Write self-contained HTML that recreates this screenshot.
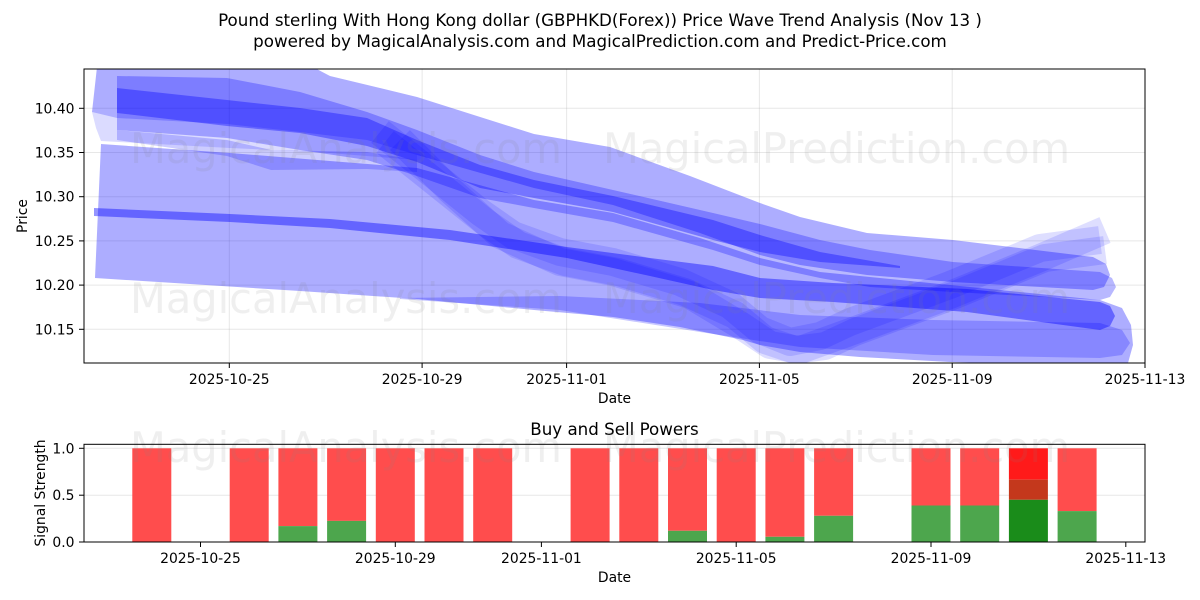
<!DOCTYPE html>
<html>
<head>
<meta charset="utf-8">
<style>
  html,body{margin:0;padding:0;background:#fff;}
  svg{display:block;}
  text{font-family:"DejaVu Sans","Liberation Sans",sans-serif;fill:#000;}
</style>
</head>
<body>
<svg width="1200" height="600" viewBox="0 0 1200 600" xmlns="http://www.w3.org/2000/svg">
  <defs>
    <clipPath id="topclip"><rect x="84" y="69" width="1061" height="294"/></clipPath>
  </defs>
  <rect x="0" y="0" width="1200" height="600" fill="#fff"/>

  <!-- Titles -->
  <text x="600" y="26" font-size="16.7" text-anchor="middle">Pound sterling With Hong Kong dollar (GBPHKD(Forex)) Price Wave Trend Analysis (Nov 13 )</text>
  <text x="600" y="47" font-size="16.7" text-anchor="middle">powered by MagicalAnalysis.com and MagicalPrediction.com and Predict-Price.com</text>

  <!-- ================= TOP CHART ================= -->
  <g stroke="#b0b0b0" stroke-opacity="0.3" stroke-width="1">
    <line x1="84" y1="108.3" x2="1145" y2="108.3"/>
    <line x1="84" y1="152.5" x2="1145" y2="152.5"/>
    <line x1="84" y1="196.7" x2="1145" y2="196.7"/>
    <line x1="84" y1="240.9" x2="1145" y2="240.9"/>
    <line x1="84" y1="285.1" x2="1145" y2="285.1"/>
    <line x1="84" y1="329.3" x2="1145" y2="329.3"/>
    <line x1="229.3" y1="69" x2="229.3" y2="363"/>
    <line x1="422.1" y1="69" x2="422.1" y2="363"/>
    <line x1="566.6" y1="69" x2="566.6" y2="363"/>
    <line x1="759.4" y1="69" x2="759.4" y2="363"/>
    <line x1="952.2" y1="69" x2="952.2" y2="363"/>
  </g>

  <g clip-path="url(#topclip)">
    <!-- U band -->
    <polygon fill="#0000ff" fill-opacity="0.32" points="100,40 290,55 330,76 417,97 534,134 610,147 690,176 760,203 800,217 867,233 953,240 1093,257 1106,264 1110,275 1104,287 1093,290 953,282 867,275 800,265 760,255 700,233 613,205 534,188 417,155 367,140 300,132 227,124 117,118 92,112"/>
    <!-- pale band -->
    <polygon fill="#0000ff" fill-opacity="0.14" points="92,112 117,118 227,124 300,132 367,140 417,155 417,160 317,152 230,148 101,141 96,128"/>
    <!-- L band -->
    <polygon fill="#0000ff" fill-opacity="0.32" points="101,144 230,153 330,161 417,168 534,200 613,213 700,238 760,258 820,272 950,285 1100,300 1122,308 1131,325 1133,345 1128,363 1100,366 950,362 860,357 800,352 760,345 743,340 680,327 613,317 534,310 417,299 300,291 95,278"/>
    <!-- medium upper band -->
    <polygon fill="#0000ff" fill-opacity="0.28" points="117,76 227,78 300,92 367,112 417,130 480,155 534,172 613,190 713,213 760,224 820,240 870,250 953,262 1100,272 1112,278 1116,287 1110,297 1100,300 953,292 870,287 820,278 760,265 713,250 613,222 534,208 480,198 417,176 367,160 300,150 227,138 117,130"/>
    <!-- dark core upper (tapering to the right) -->
    <polygon fill="#0000ff" fill-opacity="0.36" points="117,88 227,100 300,108 367,118 417,140 480,165 534,180 613,196 713,220 760,235 820,252 900,266 900,268 820,262 760,252 713,240 613,212 534,198 480,188 417,162 367,146 300,133 227,126 117,113"/>
    <!-- dip band -->
    <polygon fill="#0000ff" fill-opacity="0.2" points="117,130 227,140 271,150 367,152 417,160 417,172 367,169 271,170 227,156 117,140"/>
    <!-- lowest band (tapers in from left) -->
    <polygon fill="#0000ff" fill-opacity="0.22" points="400,298 560,296 700,303 800,315 933,320 1100,323 1122,330 1130,343 1122,355 1100,358 933,355 800,347 700,332 560,310 400,299"/>
    <!-- descending / rising pale bands -->
    <polyline fill="none" stroke="#0000ff" stroke-opacity="0.13" stroke-width="28" stroke-linejoin="round" points="380,132 430,172 480,212 513,235 560,252 613,262 680,282 730,305 760,330 790,342 820,336 850,322 950,285 1040,248 1100,240"/>
    <polyline fill="none" stroke="#0000ff" stroke-opacity="0.13" stroke-width="28" stroke-linejoin="round" points="385,142 435,182 485,222 518,245 565,262 618,272 685,292 735,315 765,340 795,350 825,346 855,332 955,295 1045,258 1105,250"/>
    <polyline fill="none" stroke="#0000ff" stroke-opacity="0.13" stroke-width="28" stroke-linejoin="round" points="400,140 450,190 500,235 560,262 613,272 690,295 740,325 770,345 800,350 850,332 950,295 1040,258 1105,230"/>
    <!-- lower line LT / LD -->
    <polygon fill="#0000ff" fill-opacity="0.42" points="94,208 230,214 330,219 450,230 567,247 650,258 713,266 760,278 833,283 967,289 1100,302 1110,306 1115,316 1110,326 1100,330 967,312 833,302 760,298 713,290 650,276 567,258 450,240 330,228 230,222 94,216"/>
  </g>

  <!-- watermarks top -->
  <g font-size="42">
    <text x="130" y="163" textLength="432" lengthAdjust="spacingAndGlyphs" style="fill:#808080;fill-opacity:0.13">MagicalAnalysis.com</text>
    <text x="603" y="163" textLength="467" lengthAdjust="spacingAndGlyphs" style="fill:#808080;fill-opacity:0.13">MagicalPrediction.com</text>
    <text x="130" y="313" textLength="432" lengthAdjust="spacingAndGlyphs" style="fill:#808080;fill-opacity:0.13">MagicalAnalysis.com</text>
    <text x="603" y="313" textLength="467" lengthAdjust="spacingAndGlyphs" style="fill:#808080;fill-opacity:0.13">MagicalPrediction.com</text>
  </g>

  <rect x="84" y="69" width="1061" height="294" fill="none" stroke="#000" stroke-width="1"/>

  <g stroke="#000" stroke-width="1">
    <line x1="79" y1="108.3" x2="84" y2="108.3"/>
    <line x1="79" y1="152.5" x2="84" y2="152.5"/>
    <line x1="79" y1="196.7" x2="84" y2="196.7"/>
    <line x1="79" y1="240.9" x2="84" y2="240.9"/>
    <line x1="79" y1="285.1" x2="84" y2="285.1"/>
    <line x1="79" y1="329.3" x2="84" y2="329.3"/>
    <line x1="229.3" y1="363" x2="229.3" y2="368"/>
    <line x1="422.1" y1="363" x2="422.1" y2="368"/>
    <line x1="566.6" y1="363" x2="566.6" y2="368"/>
    <line x1="759.4" y1="363" x2="759.4" y2="368"/>
    <line x1="952.2" y1="363" x2="952.2" y2="368"/>
    <line x1="1145" y1="363" x2="1145" y2="368"/>
  </g>
  <g font-size="13.9" text-anchor="end">
    <text x="74.5" y="113.3">10.40</text>
    <text x="74.5" y="157.5">10.35</text>
    <text x="74.5" y="201.7">10.30</text>
    <text x="74.5" y="245.9">10.25</text>
    <text x="74.5" y="290.1">10.20</text>
    <text x="74.5" y="334.3">10.15</text>
  </g>
  <g font-size="13.9" text-anchor="middle">
    <text x="229.3" y="384">2025-10-25</text>
    <text x="422.1" y="384">2025-10-29</text>
    <text x="566.6" y="384">2025-11-01</text>
    <text x="759.4" y="384">2025-11-05</text>
    <text x="952.2" y="384">2025-11-09</text>
    <text x="1145" y="384">2025-11-13</text>
    <text x="614.5" y="403">Date</text>
  </g>
  <text font-size="13.9" text-anchor="middle" transform="translate(27,216) rotate(-90)">Price</text>

  <!-- ================= BOTTOM CHART ================= -->
  <text x="614.5" y="435" font-size="16.7" text-anchor="middle">Buy and Sell Powers</text>

  <g stroke="#b0b0b0" stroke-opacity="0.3" stroke-width="1">
    <line x1="84" y1="448.3" x2="1145" y2="448.3"/>
    <line x1="84" y1="495.2" x2="1145" y2="495.2"/>
  </g>

  <g>
    <rect x="132.3" y="448.3" width="39" height="93.7" fill="#ff4d4d"/>
    <rect x="229.7" y="448.3" width="39" height="93.7" fill="#ff4d4d"/>
    <rect x="278.4" y="448.3" width="39" height="77.8" fill="#ff4d4d"/>
    <rect x="278.4" y="526.1" width="39" height="15.9" fill="#4da64d"/>
    <rect x="327.1" y="448.3" width="39" height="72.6" fill="#ff4d4d"/>
    <rect x="327.1" y="520.9" width="39" height="21.1" fill="#4da64d"/>
    <rect x="375.8" y="448.3" width="39" height="93.7" fill="#ff4d4d"/>
    <rect x="424.5" y="448.3" width="39" height="93.7" fill="#ff4d4d"/>
    <rect x="473.2" y="448.3" width="39" height="93.7" fill="#ff4d4d"/>
    <rect x="570.6" y="448.3" width="39" height="93.7" fill="#ff4d4d"/>
    <rect x="619.3" y="448.3" width="39" height="93.7" fill="#ff4d4d"/>
    <rect x="668" y="448.3" width="39" height="82.5" fill="#ff4d4d"/>
    <rect x="668" y="530.8" width="39" height="11.2" fill="#4da64d"/>
    <rect x="716.7" y="448.3" width="39" height="93.7" fill="#ff4d4d"/>
    <rect x="765.4" y="448.3" width="39" height="88.5" fill="#ff4d4d"/>
    <rect x="765.4" y="536.8" width="39" height="5.2" fill="#4da64d"/>
    <rect x="814.1" y="448.3" width="39" height="67.5" fill="#ff4d4d"/>
    <rect x="814.1" y="515.8" width="39" height="26.2" fill="#4da64d"/>
    <rect x="911.5" y="448.3" width="39" height="57.2" fill="#ff4d4d"/>
    <rect x="911.5" y="505.5" width="39" height="36.5" fill="#4da64d"/>
    <rect x="960.2" y="448.3" width="39" height="57.2" fill="#ff4d4d"/>
    <rect x="960.2" y="505.5" width="39" height="36.5" fill="#4da64d"/>
    <rect x="1008.9" y="448.3" width="39" height="31.4" fill="#ff1a1a"/>
    <rect x="1008.9" y="479.7" width="39" height="20.1" fill="#c4381c"/>
    <rect x="1008.9" y="499.8" width="39" height="42.2" fill="#1a8c1a"/>
    <rect x="1057.6" y="448.3" width="39" height="62.8" fill="#ff4d4d"/>
    <rect x="1057.6" y="511.1" width="39" height="30.9" fill="#4da64d"/>
  </g>

  <g font-size="42">
    <text x="130" y="462" textLength="432" lengthAdjust="spacingAndGlyphs" style="fill:#808080;fill-opacity:0.13">MagicalAnalysis.com</text>
    <text x="603" y="462" textLength="467" lengthAdjust="spacingAndGlyphs" style="fill:#808080;fill-opacity:0.13">MagicalPrediction.com</text>
  </g>

  <rect x="84" y="444.3" width="1061" height="97.7" fill="none" stroke="#000" stroke-width="1"/>

  <g stroke="#000" stroke-width="1">
    <line x1="79" y1="448.3" x2="84" y2="448.3"/>
    <line x1="79" y1="495.2" x2="84" y2="495.2"/>
    <line x1="79" y1="542" x2="84" y2="542"/>
    <line x1="200.5" y1="542" x2="200.5" y2="547"/>
    <line x1="395.3" y1="542" x2="395.3" y2="547"/>
    <line x1="541.4" y1="542" x2="541.4" y2="547"/>
    <line x1="736.2" y1="542" x2="736.2" y2="547"/>
    <line x1="931" y1="542" x2="931" y2="547"/>
    <line x1="1125.8" y1="542" x2="1125.8" y2="547"/>
  </g>
  <g font-size="13.9" text-anchor="end">
    <text x="74.5" y="453.3">1.0</text>
    <text x="74.5" y="500.2">0.5</text>
    <text x="74.5" y="547">0.0</text>
  </g>
  <g font-size="13.9" text-anchor="middle">
    <text x="200.5" y="563">2025-10-25</text>
    <text x="395.3" y="563">2025-10-29</text>
    <text x="541.4" y="563">2025-11-01</text>
    <text x="736.2" y="563">2025-11-05</text>
    <text x="931" y="563">2025-11-09</text>
    <text x="1125.8" y="563">2025-11-13</text>
    <text x="614.5" y="582">Date</text>
  </g>
  <text font-size="13.9" text-anchor="middle" transform="translate(45,493) rotate(-90)">Signal Strength</text>
</svg>
</body>
</html>
